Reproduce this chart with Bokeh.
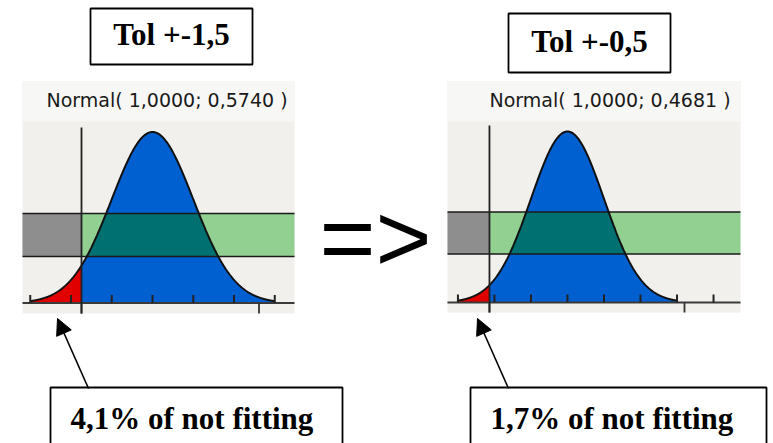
import numpy as np
from bokeh.plotting import figure
from bokeh.models import Range1d, Arrow, NormalHead
from bokeh.core.properties import value
from bokeh.embed import file_html
from bokeh.resources import INLINE

# ---- data ----
means = [1.0, 1.0]
sigmas = [0.5740, 0.4681]
lsl = 0.0
major_ticks = [0.0, 2.5]
tol_labels = ["Tol +-1,5", "Tol +-0,5"]
fail_labels = ["4,1% of not fitting", "1,7% of not fitting"]
titles = ["Normal( 1,0000; 0,5740 )", "Normal( 1,0000; 0,4681 )"]

# ---- layout of the two panels (window pixels) ----
panels = [
    dict(left=22, right=294, top=81, bottom=313, base=302.5, peak=171,
         xmin=-0.831, xmax=3.0, band=(0.272, 0.523), lsl_top=127, title_x=46,
         tol_box=(90, 252, 8, 64), tol_y=34,
         fail_box=(50, 342, 387, 470), fail_y=418, arrow=(88, 388, 57, 318)),
    dict(left=447, right=740, top=81, bottom=312, base=302.0, peak=171,
         xmin=-0.538, xmax=3.218, band=(0.284, 0.529), lsl_top=125, title_x=489,
         tol_box=(508, 670, 13, 72), tol_y=41,
         fail_box=(470, 766, 387, 470), fail_y=418, arrow=(508, 388, 477, 318)),
]

W, H = 773, 443
p = figure(width=W, height=H, x_range=Range1d(0, W), y_range=Range1d(H, 0),
           output_backend="svg", toolbar_location=None,
           x_axis_location=None, y_axis_location=None, min_border=0)
p.grid.visible = False
p.outline_line_color = None
p.background_fill_color = "white"
p.border_fill_color = "white"

BG = "#F1F0EC"
BLUE = "#0060D0"
TEAL = "#007070"
GREEN = "#92D092"
GRAY = "#8E8E8E"
RED = "#E00000"

for i, pan in enumerate(panels):
    mu, sd = means[i], sigmas[i]

    def px(x, pan=pan):
        return pan["left"] + (np.asarray(x) - pan["xmin"]) / (pan["xmax"] - pan["xmin"]) * (pan["right"] - pan["left"])

    def py(yn, pan=pan):
        return pan["base"] - np.asarray(yn) * pan["peak"]

    # panel background
    p.quad(left=pan["left"], right=pan["right"], top=pan["top"], bottom=pan["bottom"],
           fill_color=BG, line_color=None)
    p.quad(left=pan["left"], right=pan["right"], top=pan["top"], bottom=pan["top"] + 40,
           fill_color="#F7F7F5", line_color=None)

    blo, bhi = pan["band"]
    xl = float(px(lsl))
    # band
    p.quad(left=pan["left"], right=xl, bottom=float(py(blo)), top=float(py(bhi)),
           fill_color=GRAY, line_color=None)
    p.quad(left=xl, right=pan["right"], bottom=float(py(blo)), top=float(py(bhi)),
           fill_color=GREEN, line_color=None)

    # curve
    xr = np.linspace(mu - 3 * sd, lsl, 120)
    xb = np.linspace(lsl, mu + 3 * sd, 500)
    yr = np.exp(-0.5 * ((xr - mu) / sd) ** 2)
    yb = np.exp(-0.5 * ((xb - mu) / sd) ** 2)
    p.varea(x=px(xr), y1=py(np.zeros_like(yr)), y2=py(yr), fill_color=RED)
    p.varea(x=px(xb), y1=py(np.zeros_like(yb)), y2=py(yb), fill_color=BLUE)
    yt = np.clip(yb, blo, bhi)
    p.varea(x=px(xb), y1=py(np.full_like(yb, blo)), y2=py(yt), fill_color=TEAL)

    # band edges
    for yy in (blo, bhi):
        p.line(x=[pan["left"], pan["right"]], y=[float(py(yy))] * 2,
               line_color="#1a1a1a", line_width=1.5)

    # curve outline
    xa = np.concatenate([xr, xb])
    ya = np.concatenate([yr, yb])
    p.line(x=px(xa), y=py(ya), line_color="#111111", line_width=2)

    # baseline
    p.line(x=[pan["left"], pan["right"]], y=[pan["base"]] * 2, line_color="#3a3a3a", line_width=2)

    # sigma ticks (upward)
    ks = [k for k in range(-6, 7) if pan["xmin"] < mu + k * sd < pan["xmax"]]
    tx = [float(px(mu + k * sd)) for k in ks]
    p.segment(x0=tx, x1=tx, y0=[pan["base"]] * len(tx), y1=[pan["base"] - 8] * len(tx),
              line_color="#222222", line_width=2)
    # major ticks (downward)
    mx = [float(px(t)) for t in major_ticks]
    p.segment(x0=mx, x1=mx, y0=[pan["base"]] * len(mx), y1=[pan["bottom"]] * len(mx),
              line_color="#333333", line_width=1.8)
    # LSL line
    p.segment(x0=[xl], x1=[xl], y0=[pan["lsl_top"]], y1=[pan["bottom"]],
              line_color="#222222", line_width=1.8)

    # title
    p.text(x=[pan["title_x"]], y=[99], text=[titles[i]], text_font=value("DejaVu Sans"),
           text_font_size="19px", text_color="#1a1a1a", text_baseline="alphabetic",
           text_align="left")

    # tolerance box
    l, r, t, b = pan["tol_box"]
    p.quad(left=l, right=r, top=t, bottom=b, fill_color="white", line_color="black", line_width=1.8)
    p.text(x=[(l + r) / 2], y=[pan["tol_y"]], text=[tol_labels[i]],
           text_font=value("Liberation Serif"), text_font_style="bold",
           text_font_size="31px", text_color="black", text_align="center",
           text_baseline="alphabetic")

    # not fitting box
    l, r, t, b = pan["fail_box"]
    p.quad(left=l, right=r, top=t, bottom=b, fill_color="white", line_color="black", line_width=1.8)
    p.text(x=[l + 20], y=[pan["fail_y"]], text=[fail_labels[i]],
           text_font=value("Liberation Serif"), text_font_style="bold",
           text_font_size="31px", text_color="black", text_align="left",
           text_baseline="alphabetic")

    # arrow
    x0, y0, x1, y1 = pan["arrow"]
    p.add_layout(Arrow(x_start=x0, y_start=y0, x_end=x1, y_end=y1, line_color="black",
                       line_width=1.6,
                       end=NormalHead(size=16, fill_color="black", line_color="black")))

# big "=>"
p.text(x=[375], y=[237], text=["=>"], text_font=value("Liberation Sans"),
       text_font_size="96px", text_color="black", text_align="center",
       text_baseline="alphabetic")

open("out.html", "w").write(file_html(p, INLINE))
